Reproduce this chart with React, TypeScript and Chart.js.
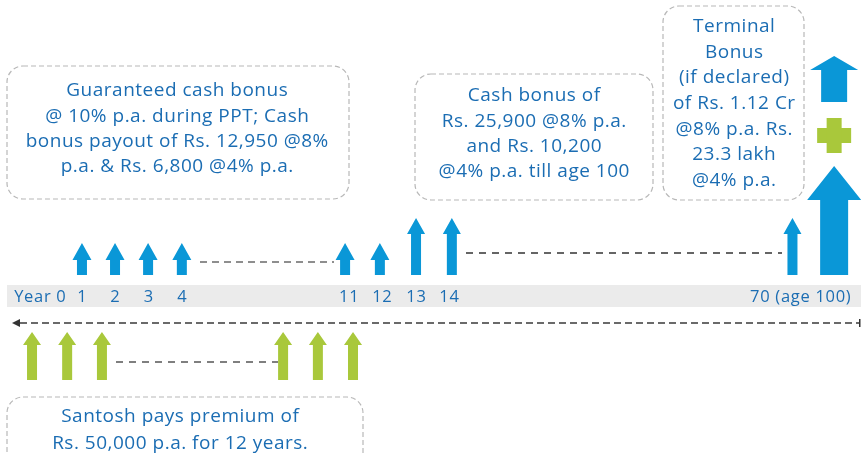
import React, { useEffect, useRef } from "react";
import { Chart, registerables } from "chart.js";
Chart.register(...registerables);

// ---- data (x in timeline slots, y in relative height units; 0 = timeline) ----
const timelineLabels = ["Year 0", "1", "2", "3", "4", "11", "12", "13", "14", "70 (age 100)"];
const labelSlots = [1.16, 2.38, 3.34, 4.31, 5.28, 10.13, 11.09, 12.08, 13.04, 23.24];

const bonusYears = ["1", "2", "3", "4", "11", "12", "13", "14", "70"];
const bonusSlots = [2.38, 3.34, 4.3, 5.28, 10.02, 11.03, 12.08, 13.12, 23.01];
const bonusHeights = [32, 32, 32, 32, 32, 32, 57, 57, 57];

const maturitySlots = [24.22];
const maturityHeights = [109];

const premiumSlots = [0.93, 1.95, 2.96, 8.22, 9.23, 10.25];
const premiumTops = [-57, -57, -57, -57, -57, -57];
const premiumBase = -105;

const box1Lines = ["Guaranteed cash bonus", "@ 10% p.a. during PPT; Cash", "bonus payout of Rs. 12,950 @8%", "p.a. & Rs. 6,800 @4% p.a."];
const box2Lines = ["Cash bonus of", "Rs. 25,900 @8% p.a.", "and Rs. 10,200", "@4% p.a. till age 100"];
const box3Lines = ["Terminal", "Bonus", "(if declared)", "of Rs. 1.12 Cr", "@8% p.a. Rs.", "23.3 lakh", "@4% p.a."];
const box4Lines = ["Santosh pays premium of", "Rs. 50,000 p.a. for 12 years."];

const BLUE = "#0a97d7";
const GREEN = "#a9c83b";
const TEXT = "#1b6db3";
const FONT = "'Open Sans', 'Noto Sans', sans-serif";

function arrow(ctx: CanvasRenderingContext2D, cx: number, baseY: number, topY: number, headW: number, shaftW: number, headH: number, color: string) {
  ctx.beginPath();
  ctx.moveTo(cx, topY);
  ctx.lineTo(cx + headW / 2, topY + headH);
  ctx.lineTo(cx + shaftW / 2, topY + headH);
  ctx.lineTo(cx + shaftW / 2, baseY);
  ctx.lineTo(cx - shaftW / 2, baseY);
  ctx.lineTo(cx - shaftW / 2, topY + headH);
  ctx.lineTo(cx - headW / 2, topY + headH);
  ctx.closePath();
  ctx.fillStyle = color;
  ctx.fill();
}

function dashed(ctx: CanvasRenderingContext2D, x1: number, x2: number, yy: number, color: string, w: number, dash: number[]) {
  ctx.save();
  ctx.strokeStyle = color;
  ctx.lineWidth = w;
  ctx.setLineDash(dash);
  ctx.beginPath();
  ctx.moveTo(x1, yy);
  ctx.lineTo(x2, yy);
  ctx.stroke();
  ctx.restore();
}

function spacedText(ctx: CanvasRenderingContext2D, text: string, cx: number, cy: number, spacing: number) {
  (ctx as any).letterSpacing = `${spacing}px`;
  ctx.fillText(text, cx + spacing / 2, cy);
  (ctx as any).letterSpacing = "0px";
}

function box(ctx: CanvasRenderingContext2D, x1: number, y1: number, x2: number, y2: number, lines: string[], cx: number, firstY: number, step: number) {
  ctx.save();
  ctx.strokeStyle = "#b8b8b8";
  ctx.lineWidth = 1.2;
  ctx.setLineDash([5, 3]);
  ctx.beginPath();
  (ctx as any).roundRect(x1, y1, x2 - x1, y2 - y1, 16);
  ctx.stroke();
  ctx.setLineDash([]);
  ctx.fillStyle = TEXT;
  ctx.font = `19px ${FONT}`;
  ctx.textAlign = "center";
  ctx.textBaseline = "middle";
  lines.forEach((l, i) => spacedText(ctx, l, cx, firstY + i * step, 0.5));
  ctx.restore();
}

const infographic = {
  id: "infographic",
  beforeDatasetsDraw(chart: any) {
    const { ctx, scales } = chart;
    const y = scales.y;
    const x = scales.x;
    ctx.save();
    // timeline band
    const bt = y.getPixelForValue(-10);
    const bb = y.getPixelForValue(-32);
    ctx.fillStyle = "#ebebeb";
    ctx.fillRect(7, bt, chart.width - 7, bb - bt);
    // labels
    ctx.fillStyle = TEXT;
    ctx.font = `16.5px ${FONT}`;
    ctx.textAlign = "center";
    ctx.textBaseline = "middle";
    const ly = (bt + bb) / 2 + 1;
    timelineLabels.forEach((l, i) => spacedText(ctx, l, x.getPixelForValue(labelSlots[i]), ly, 0.7));
    // time arrow (dashed)
    const ty = y.getPixelForValue(-48);
    dashed(ctx, 20, chart.width - 2, ty, "#6a6a6a", 2, [7, 4]);
    ctx.fillStyle = "#333";
    ctx.beginPath();
    ctx.moveTo(12, ty);
    ctx.lineTo(20, ty - 4);
    ctx.lineTo(20, ty + 4);
    ctx.closePath();
    ctx.fill();
    ctx.fillRect(chart.width - 2, ty - 4, 1.5, 8);
    // gap dashes
    dashed(ctx, 200, 334, y.getPixelForValue(13), "#6a6a6a", 1.5, [7, 5]);
    dashed(ctx, 466, 782, y.getPixelForValue(22), "#333", 1.3, [7, 6]);
    dashed(ctx, 116, 278, y.getPixelForValue(-87), "#555", 1.3, [7, 6]);
    ctx.restore();
  },
  afterDatasetsDraw(chart: any) {
    const { ctx, scales } = chart;
    const y = scales.y;
    const base = y.getPixelForValue(0);
    ctx.save();
    chart.getDatasetMeta(0).data.forEach((p: any, i: number) => {
      const tall = bonusHeights[i] > 40;
      arrow(ctx, p.x, base, p.y, tall ? 18 : 19, 10, tall ? 16 : 17, BLUE);
    });
    chart.getDatasetMeta(1).data.forEach((p: any) => {
      arrow(ctx, p.x, base, p.y, 54, 28, 34, BLUE);
      // legend symbols above: arrow + plus
      arrow(ctx, p.x, 102, 56, 48, 26, 14, BLUE);
      ctx.fillStyle = GREEN;
      ctx.fillRect(p.x - 17, 128, 34, 15);
      ctx.fillRect(p.x - 7.5, 118, 15, 35);
    });
    const pb = y.getPixelForValue(premiumBase);
    chart.getDatasetMeta(2).data.forEach((p: any) => {
      arrow(ctx, p.x, pb, p.y, 18, 10, 13, GREEN);
    });
    box(ctx, 7, 66, 349, 199, box1Lines, 177, 91, 25.3);
    box(ctx, 415, 74, 653, 200, box2Lines, 534, 96, 25.3);
    box(ctx, 663, 6, 804, 200, box3Lines, 734, 26.5, 25.7);
    box(ctx, 7, 397, 363, 475, box4Lines, 180, 417, 26.5);
    ctx.restore();
  },
};

export default function App() {
  const ref = useRef<HTMLCanvasElement>(null);
  useEffect(() => {
    document.body.style.margin = "0";
    const chart = new Chart(ref.current!, {
      type: "scatter",
      data: {
        datasets: [
          { label: "Cash bonus", data: bonusSlots.map((s, i) => ({ x: s, y: bonusHeights[i] })), pointRadius: 0, backgroundColor: BLUE },
          { label: "Maturity", data: maturitySlots.map((s, i) => ({ x: s, y: maturityHeights[i] })), pointRadius: 0, backgroundColor: BLUE },
          { label: "Premium", data: premiumSlots.map((s, i) => ({ x: s, y: premiumTops[i] })), pointRadius: 0, backgroundColor: GREEN },
        ],
      },
      options: {
        animation: false,
        responsive: false,
        maintainAspectRatio: false,
        layout: { padding: 0 },
        events: [],
        scales: {
          x: { type: "linear", display: false, min: 0, max: 25 },
          y: { type: "linear", display: false, min: -180, max: 275 },
        },
        plugins: { legend: { display: false }, tooltip: { enabled: false } },
      },
      plugins: [infographic],
    });
    return () => chart.destroy();
  }, []);
  return (
    <div style={{ width: 861, height: 455 }}>
      <canvas ref={ref} width={861} height={455} />
    </div>
  );
}
